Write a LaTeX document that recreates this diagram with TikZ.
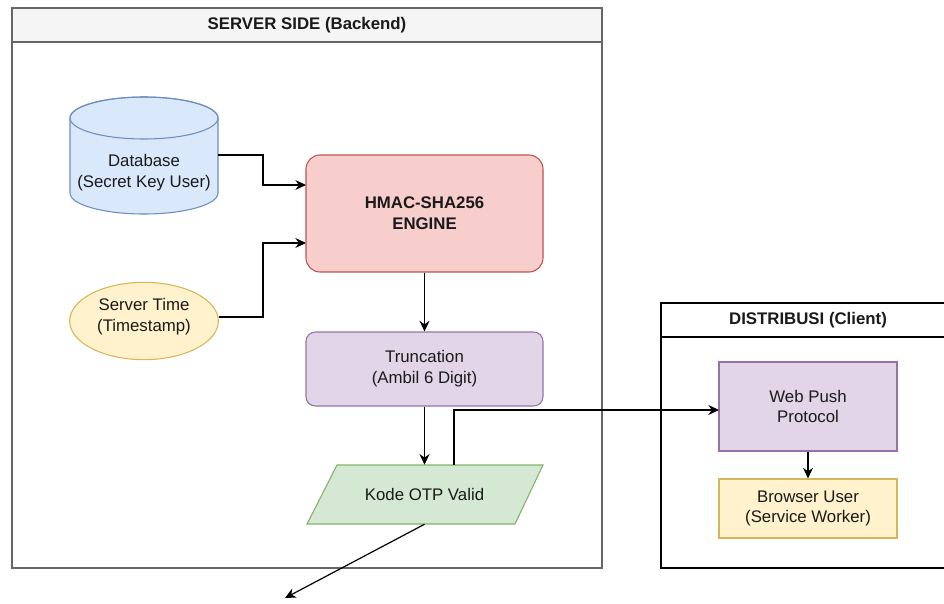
\documentclass[tikz,border=0pt]{standalone}
\usepackage{fontspec}
\setmainfont{Liberation Sans}
\usetikzlibrary{arrows.meta,shapes.geometric}
\definecolor{dbfill}{HTML}{DAE8FC}
\definecolor{dbline}{HTML}{6C8EBF}
\definecolor{yfill}{HTML}{FFF2CC}
\definecolor{yline}{HTML}{D6B656}
\definecolor{rfill}{HTML}{F8CECC}
\definecolor{rline}{HTML}{B85450}
\definecolor{pfill}{HTML}{E1D5E7}
\definecolor{pline}{HTML}{9673A6}
\definecolor{gfill}{HTML}{D5E8D4}
\definecolor{gline}{HTML}{82B366}
\definecolor{hdrfill}{HTML}{F5F5F5}
\definecolor{hdrline}{HTML}{666666}
\definecolor{txt}{HTML}{1A1A1A}
\begin{document}
\begin{tikzpicture}[x=0.75pt,y=-0.75pt,
  font=\fontsize{12.6}{15.6}\selectfont, text=txt,
  box/.style={draw, line width=0.8pt, align=center, inner sep=0pt},
  conn/.style={draw=black, line width=0.9pt, -{Stealth[length=8pt,width=7.5pt]}},
  lbl/.style={align=center, inner sep=0pt}]
\useasboundingbox (0,0) rectangle (944,603);

% Server side container
\draw[draw=hdrline, line width=0.9pt] (12,8) rectangle (602,568);
\filldraw[fill=hdrfill, draw=hdrline, line width=0.9pt] (12,8) rectangle (602,42);
\node[lbl, font=\fontsize{12.6}{15.6}\selectfont\bfseries] (srvtitle) at (307,25) {SERVER SIDE (Backend)};

% Distribusi container (cut at right edge)
\draw[line width=0.9pt] (944,303) -- (661,303) -- (661,568) -- (944,568);
\draw[line width=0.9pt] (661,337) -- (944,337);
\node[lbl, font=\fontsize{12.6}{15.6}\selectfont\bfseries] (clititle) at (808,320) {DISTRIBUSI (Client)};

% Database cylinder
\filldraw[fill=dbfill, draw=dbline, line width=0.8pt]
  (70,118) -- (70,193) arc[start angle=180, end angle=0, x radius=74, y radius=21]
  -- (218,118) arc[start angle=0, end angle=-180, x radius=74, y radius=21] -- cycle;
\draw[draw=dbline, line width=0.8pt] (144,118) ellipse[x radius=74, y radius=21];
\node[lbl, minimum width=111pt, minimum height=56pt] (db) at (144,173) {Database\\(Secret Key User)};

% Server time
\node[box, ellipse, fill=yfill, draw=yline, minimum width=111.5pt, minimum height=58pt] (time) at (144,321) {};
\node[lbl] (timetxt) at (144,317) {Server Time\\(Timestamp)};

% HMAC
\node[box, fill=rfill, draw=rline, rounded corners=10.5pt, minimum width=177.75pt, minimum height=87.75pt,
  font=\fontsize{12.6}{15.6}\selectfont\bfseries] (hmac) at (424.5,213.5) {HMAC-SHA256\\ENGINE};

% Truncation
\node[box, fill=pfill, draw=pline, rounded corners=7pt, minimum width=177.75pt, minimum height=55.5pt] (trunc) at (424.5,369) {Truncation\\(Ambil 6 Digit)};

% Kode OTP parallelogram
\filldraw[fill=gfill, draw=gline, line width=0.8pt] (307,524) -- (337,465) -- (543,465) -- (515,524) -- cycle;
\node[lbl, minimum width=177pt, minimum height=44.25pt] (kode) at (424.5,494.5) {Kode OTP Valid};

% Client boxes
\node[box, fill=pfill, draw=pline, minimum width=133.5pt, minimum height=66.75pt] (push) at (808,406.5) {Web Push\\Protocol};
\node[box, fill=yfill, draw=yline, minimum width=133.5pt, minimum height=44.25pt] (browser) at (808,508.5) {Browser User\\(Service Worker)};

% Coordinates
\coordinate (dbout) at (218,155);
\coordinate (hmacin1) at (306,185);
\coordinate (timeout) at (218.5,317);
\coordinate (hmacin2) at (306,243);
\coordinate (kodetop) at (454,465);
\coordinate (pushin) at (719,410);
\coordinate (loose) at (285,598);

% Connectors
\draw[conn] (dbout) -- (263,155) |- (hmacin1);
\draw[conn] (timeout) -- (263,317) |- (hmacin2);
\draw[conn] (hmac.south) -- (trunc.north);
\draw[conn] (trunc.south) -- (kode.north);
\draw[conn] (kodetop) |- (pushin);
\draw[conn] (push.south) -- (browser.north);
\draw[conn] (kode.south) -- (loose);
\end{tikzpicture}
\end{document}
